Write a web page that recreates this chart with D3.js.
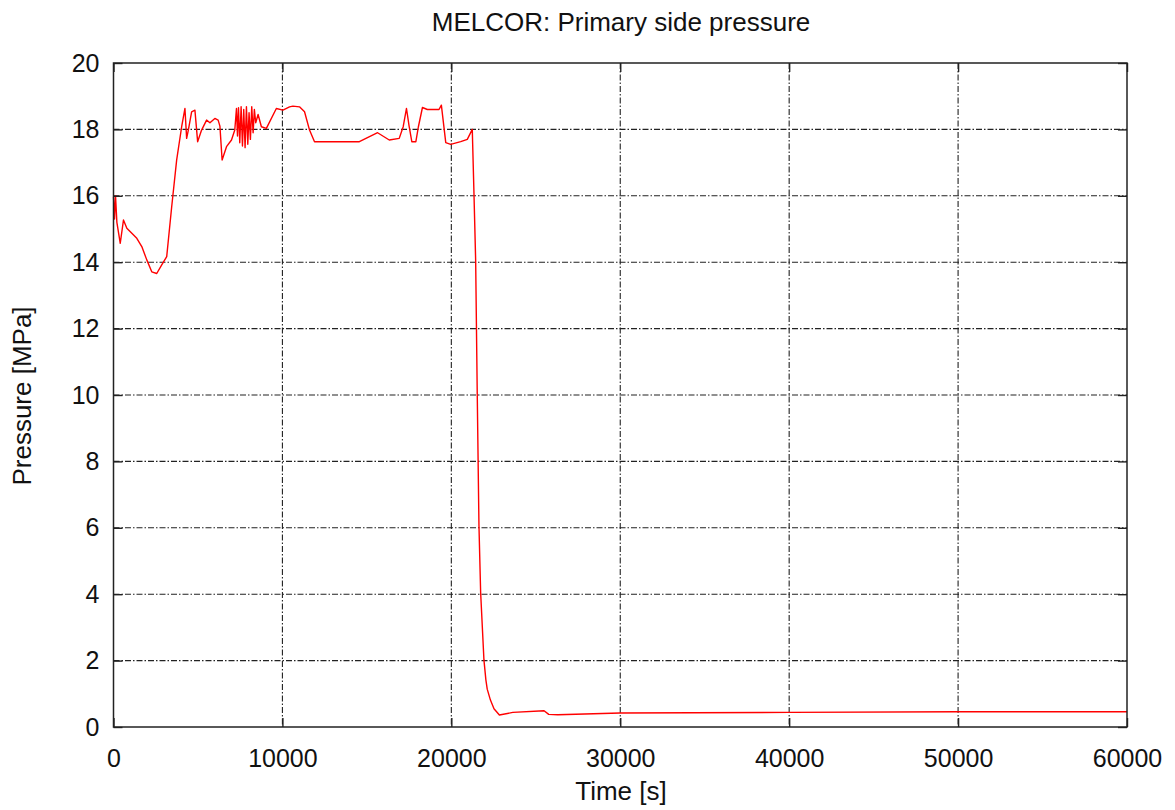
<!DOCTYPE html>
<html>
<head>
<meta charset="utf-8">
<script src="https://cdn.jsdelivr.net/npm/d3@7"></script>
<style>
  body { margin: 0; background: #fff; }
  svg { display: block; }
  text { font-family: "Liberation Sans", Arial, Helvetica, sans-serif; fill: #111; }
</style>
</head>
<body>
<svg id="chart" width="1175" height="810"></svg>
<script>
// ---- Data ----
const title = "MELCOR: Primary side pressure";
const xLabel = "Time [s]";
const yLabel = "Pressure [MPa]";
const xTicks = [0, 10000, 20000, 30000, 40000, 50000, 60000];
const yTicks = [0, 2, 4, 6, 8, 10, 12, 14, 16, 18, 20];

const timeS = [
  0, 60, 120, 200, 400, 590, 790, 1380, 1675, 1970, 2265, 2560, 2855, 3150, 3445, 3740,
  4035, 4230, 4330, 4430, 4625, 4820, 4980, 5215, 5510, 5710, 6000, 6195, 6300, 6430,
  6690, 6985, 7180, 7280, 7340, 7400, 7475, 7555, 7635, 7710, 7790, 7870, 7950, 8025,
  8105, 8185, 8265, 8340, 8420, 8560, 8755, 9050, 9640, 10030, 10420, 10620, 11010,
  11310, 11605, 11900, 12785, 14555, 15635, 16325, 16915, 17150, 17345, 17500, 17660,
  17900, 18050, 18290, 18580, 19270, 19410, 19670, 19960, 20555, 20945, 21240, 21340,
  21440, 21535, 21635, 21735, 21930, 22045, 22125, 22315, 22525, 22845, 23640, 25490,
  25765, 26300, 27890, 30000, 40000, 50000, 60000
];
const pressureMPa = [
  15.97, 15.3, 16.0, 15.2, 14.57, 15.27, 15.02, 14.72, 14.47, 14.07, 13.71, 13.66, 13.92, 14.17, 15.67, 17.08,
  18.08, 18.63, 17.73, 17.98, 18.53, 18.58, 17.63, 17.98, 18.28, 18.2, 18.33, 18.28, 18.1, 17.08,
  17.48, 17.68, 17.98, 18.63, 17.8, 18.65, 17.6, 18.68, 17.5, 18.6, 17.45, 18.68, 17.55, 18.5,
  17.7, 18.68, 17.9, 18.6, 18.2, 18.45, 18.08, 18.03, 18.63, 18.58, 18.68, 18.7, 18.68,
  18.53, 17.98, 17.63, 17.63, 17.63, 17.9, 17.68, 17.73, 18.08, 18.63, 18.1, 17.63,
  17.63, 18.08, 18.66, 18.6, 18.6, 18.73, 17.6, 17.55, 17.63, 17.7, 18.0, 16.07,
  14.05, 10.0, 6.08, 4.05, 2.02, 1.42, 1.14, 0.81, 0.55, 0.36, 0.44, 0.49,
  0.38, 0.37, 0.39, 0.42, 0.44, 0.46, 0.46
];

// ---- Layout ----
const svg = d3.select("#chart");
const m = { left: 113.5, right: 1127, top: 63, bottom: 727 };
const x = d3.scaleLinear().domain([0, 60000]).range([m.left, m.right]);
const y = d3.scaleLinear().domain([0, 20]).range([m.bottom, m.top]);

// grid
const grid = svg.append("g");
grid.selectAll("line.gx").data(xTicks.slice(1, -1)).join("line")
  .attr("x1", d => x(d)).attr("x2", d => x(d))
  .attr("y1", m.top).attr("y2", m.bottom)
  .attr("stroke", "#222").attr("stroke-width", 1.1)
  .attr("stroke-dasharray", "6,2,1.5,2");
grid.selectAll("line.gy").data(yTicks.slice(1, -1)).join("line")
  .attr("x1", m.left).attr("x2", m.right)
  .attr("y1", d => y(d)).attr("y2", d => y(d))
  .attr("stroke", "#222").attr("stroke-width", 1.1)
  .attr("stroke-dasharray", "6,2,1.5,2");

// data line
const line = d3.line().x((d, i) => x(timeS[i])).y(d => y(d));
svg.append("path")
  .attr("d", line(pressureMPa))
  .attr("fill", "none")
  .attr("stroke", "#ff0000")
  .attr("stroke-width", 1.4)
  .attr("stroke-linejoin", "round");

// axes (ticks inward, mirrored)
const tickLen = 9;
const axB = svg.append("g").attr("transform", `translate(0,${m.bottom})`)
  .call(d3.axisBottom(x).tickValues(xTicks).tickSizeInner(-tickLen).tickSizeOuter(0).tickPadding(22).tickFormat(d3.format("d")));
const axT = svg.append("g").attr("transform", `translate(0,${m.top})`)
  .call(d3.axisTop(x).tickValues(xTicks).tickSizeInner(-tickLen).tickSizeOuter(0).tickFormat(""));
const axL = svg.append("g").attr("transform", `translate(${m.left},0)`)
  .call(d3.axisLeft(y).tickValues(yTicks).tickSizeInner(-tickLen).tickSizeOuter(0).tickPadding(14).tickFormat(d3.format("d")));
const axR = svg.append("g").attr("transform", `translate(${m.right},0)`)
  .call(d3.axisRight(y).tickValues(yTicks).tickSizeInner(-tickLen).tickSizeOuter(0).tickFormat(""));
[axB, axT, axL, axR].forEach(a => {
  a.select(".domain").remove();
  a.selectAll(".tick line").attr("stroke", "#222").attr("stroke-width", 1.4);
  a.selectAll("text").style("font-size", "25px").attr("fill", "#111");
});

// border
svg.append("rect")
  .attr("x", m.left).attr("y", m.top)
  .attr("width", m.right - m.left).attr("height", m.bottom - m.top)
  .attr("fill", "none").attr("stroke", "#222").attr("stroke-width", 1.5);

// titles
svg.append("text").attr("x", 621).attr("y", 31).attr("text-anchor", "middle")
  .style("font-size", "26px").text(title);
svg.append("text").attr("x", 621).attr("y", 800).attr("text-anchor", "middle")
  .style("font-size", "26px").text(xLabel);
svg.append("text").attr("transform", `translate(31,396) rotate(-90)`).attr("text-anchor", "middle")
  .style("font-size", "26px").text(yLabel);
</script>
</body>
</html>
